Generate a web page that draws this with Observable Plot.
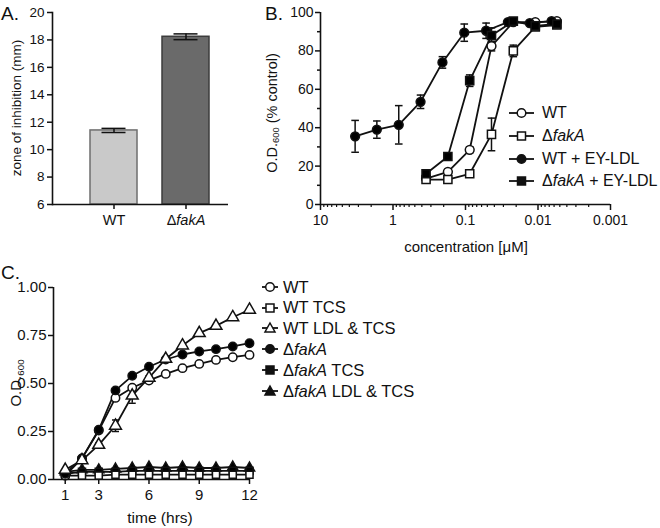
<!DOCTYPE html>
<html><head><meta charset="utf-8">
<script src="https://cdn.jsdelivr.net/npm/d3@7"></script>
<script src="https://cdn.jsdelivr.net/npm/@observablehq/plot@0.6"></script>
<style>
body{margin:0;background:#fff}
#fig{position:relative;width:660px;height:528px;font-family:Arial,"Liberation Sans",sans-serif;color:#111;overflow:hidden;background:#fff}
.abs{position:absolute}
.plabel{position:absolute;font-size:19px;line-height:1}
.ytitle{position:absolute;transform:translate(-50%,-50%) rotate(-90deg);white-space:nowrap;line-height:1}
.xtitle{position:absolute;transform:translate(-50%,-50%);white-space:nowrap;line-height:1}
.lrow{position:absolute;display:flex;align-items:center;white-space:nowrap;height:20px}
.lrow svg{display:block}
sub{font-size:65%;vertical-align:-0.25em}
</style></head>
<body>
<div id="fig">
  <div id="pA" class="abs" style="left:0;top:0"></div>
  <div id="pB" class="abs" style="left:250px;top:0"></div>
  <div id="pC" class="abs" style="left:0;top:255px"></div>
  <div class="plabel" style="left:1px;top:4px">A.</div>
  <div class="plabel" style="left:265px;top:4px">B.</div>
  <div class="plabel" style="left:1px;top:263px">C.</div>
  <div class="ytitle" style="left:17px;top:108px;font-size:13.5px">zone of inhibition (mm)</div>
  <div class="ytitle" style="left:273px;top:113px;font-size:14.5px">O.D.<sub>600</sub> (% control)</div>
  <div class="xtitle" style="left:466px;top:246px;font-size:15px">concentration [μM]</div>
  <div class="ytitle" style="left:17px;top:383px;font-size:15px">O.D.<sub>600</sub></div>
  <div class="xtitle" style="left:160px;top:518px;font-size:15.5px">time (hrs)</div>
  <div id="legB"></div>
  <div id="legC"></div>
</div>
<script>
// ---------- Panel A data ----------
const barCats = ["WT", "ΔfakA"];
const barMeans = [11.4, 18.23];
const barErr = [0.15, 0.21];
const aTicks = [6, 8, 10, 12, 14, 16, 18, 20];

// ---------- Panel B data ----------
const bXTicks = [10, 1, 0.1, 0.01, 0.001];
const bYTicks = [0, 20, 40, 60, 80, 100];
const bYMinor = [10, 30, 50, 70, 90];
const bConcLDL = [3.33, 1.67, 0.833, 0.417, 0.208, 0.104, 0.052, 0.026, 0.013, 0.0065];
const bConc = [0.35, 0.175, 0.0875, 0.0438, 0.0219, 0.0109, 0.0055];
const bWT = [13.5, 17, 28.5, 82.5, 95, 95, 95.5];
const bWTerr = [1, 1, 1.5, 2.5, 1, 1, 1];
const bFak = [13, 13, 16, 36.5, 80, 92.5, 93.5];
const bFakErr = [1, 1, 1.5, 8.5, 3, 1, 1];
const bWTLDL = [35.5, 39, 41.5, 53.5, 74, 89.5, 90.5, 95, 94.5, 95.5];
const bWTLDLerr = [8.3, 4.5, 10, 3.5, 3, 4.5, 4, 1, 1, 1];
const bFakLDL = [16, 25, 64.5, 88, 95.5, 93, 94];
const bFakLDLerr = [1, 1, 3, 4, 1, 1, 1];
const bNames = ["WT", "ΔfakA", "WT + EY-LDL", "ΔfakA + EY-LDL"];

// ---------- Panel C data ----------
const cTime = [1, 2, 3, 4, 5, 6, 7, 8, 9, 10, 11, 12];
const cXTicks = [1, 3, 6, 9, 12];
const cYTicks = [0, 0.25, 0.5, 0.75, 1];
const cWT = [0.02, 0.11, 0.255, 0.425, 0.478, 0.516, 0.55, 0.58, 0.602, 0.623, 0.637, 0.649];
const cWTTCS = [0.02, 0.02, 0.02, 0.025, 0.025, 0.025, 0.025, 0.025, 0.025, 0.025, 0.025, 0.025];
const cWTLDLTCS = [0.05, 0.10, 0.18, 0.28, 0.437, 0.53, 0.628, 0.698, 0.762, 0.80, 0.845, 0.884];
const cWTLDLTCSerr = [0, 0, 0.01, 0.03, 0.04, 0.01, 0, 0, 0, 0, 0, 0];
const cFak = [0.03, 0.11, 0.259, 0.464, 0.54, 0.587, 0.625, 0.651, 0.667, 0.679, 0.693, 0.71];
const cFakTCS = [0.03, 0.04, 0.04, 0.04, 0.045, 0.045, 0.045, 0.045, 0.045, 0.045, 0.045, 0.045];
const cFakLDLTCS = [0.04, 0.05, 0.05, 0.055, 0.06, 0.065, 0.06, 0.065, 0.06, 0.06, 0.065, 0.06];
const cNames = ["WT", "WT TCS", "WT LDL & TCS", "ΔfakA", "ΔfakA TCS", "ΔfakA LDL & TCS"];

// ---------- helpers ----------
const capSym = {draw(ctx, size) { const r = Math.sqrt(size / Math.PI); ctx.moveTo(-r, 0); ctx.lineTo(r, 0); }};
const FONT = 'Arial, "Liberation Sans", sans-serif';

function italicize(svg) {
  d3.select(svg).selectAll("text").each(function () {
    const t = this.textContent;
    if (t.startsWith("Δ")) {
      const sel = d3.select(this);
      sel.text("");
      sel.append("tspan").text("Δ");
      sel.append("tspan").attr("font-style", "italic").text(t.slice(1));
    }
  });
}

// ---------- Panel A ----------
{
  const rows = barCats.map((c, i) => ({cat: c, mean: barMeans[i], err: barErr[i]}));
  const fills = ["#c9c9c9", "#6a6a6a"], strokes = ["#6e6e6e", "#3c3c3c"];
  const barMarks = rows.map((r, i) => Plot.barY([r], {x: "cat", y1: 6, y2: "mean", fill: fills[i], stroke: strokes[i], strokeWidth: 1.5}));
  const svg = Plot.plot({
    width: 240, height: 255, marginLeft: 52, marginRight: 12, marginTop: 12, marginBottom: 51,
    style: {fontFamily: FONT, fontSize: "13.5px", color: "#111", background: "transparent", overflow: "visible"},
    x: {type: "band", domain: barCats, range: [77.25, 222.25], paddingInner: 0.35, paddingOuter: 0.175, label: null},
    y: {domain: [6, 20], label: null},
    marks: [
      ...barMarks,
      Plot.ruleX(rows, {x: "cat", y1: d => d.mean - d.err, y2: d => d.mean + d.err, stroke: "#111", strokeWidth: 1.5}),
      Plot.tickY(rows, {x: "cat", y: d => d.mean + d.err, insetLeft: 11.5, insetRight: 11.5, stroke: "#111", strokeWidth: 1.5}),
      Plot.tickY(rows, {x: "cat", y: d => d.mean - d.err, insetLeft: 11.5, insetRight: 11.5, stroke: "#111", strokeWidth: 1.5}),
      Plot.axisY({ticks: aTicks, tickSize: 5, tickPadding: 3, strokeWidth: 1.5, label: null}),
      Plot.axisX({tickSize: 5, tickPadding: 5, strokeWidth: 1.5, label: null, fontSize: 14.5}),
      Plot.ruleY([6], {stroke: "#111", strokeWidth: 1.6}),
      Plot.frame({anchor: "left", stroke: "#111", strokeWidth: 1.6})
    ]
  });
  italicize(svg);
  document.getElementById("pA").appendChild(svg);
}

// ---------- Panel B ----------
{
  const series = [
    {name: bNames[0], x: bConc, y: bWT, e: bWTerr, sym: "circle", fill: "white"},
    {name: bNames[1], x: bConc, y: bFak, e: bFakErr, sym: "square", fill: "white"},
    {name: bNames[2], x: bConcLDL, y: bWTLDL, e: bWTLDLerr, sym: "circle", fill: "black"},
    {name: bNames[3], x: bConc, y: bFakLDL, e: bFakLDLerr, sym: "square", fill: "black"}
  ];
  const rows = series.flatMap(s => s.x.map((x, i) => ({s: s.name, x, y: s.y[i], e: s.e[i]})));
  const minor = [0.001, 0.01, 0.1, 1].flatMap(d => [2, 3, 4, 5, 6, 7, 8, 9].map(k => +(d * k).toPrecision(3)));
  const marks = [
    Plot.line(rows, {x: "x", y: "y", z: "s", stroke: "#111", strokeWidth: 1.8}),
    Plot.ruleX(rows, {x: "x", y1: d => d.y - d.e, y2: d => d.y + d.e, stroke: "#111", strokeWidth: 1.5}),
    Plot.dot(rows, {x: "x", y: d => d.y + d.e, symbol: capSym, r: 3.8, stroke: "#111", strokeWidth: 1.5, fill: "none"}),
    Plot.dot(rows, {x: "x", y: d => d.y - d.e, symbol: capSym, r: 3.8, stroke: "#111", strokeWidth: 1.5, fill: "none"})
  ];
  for (const s of series) {
    marks.push(Plot.dot(rows.filter(r => r.s === s.name), {x: "x", y: "y", symbol: s.sym, r: s.sym === "square" ? 4.6 : 4.4, fill: s.fill, stroke: "#111", strokeWidth: 1.5}));
  }
  marks.push(
    Plot.axisY({ticks: bYTicks, tickSize: 5, tickPadding: 2, strokeWidth: 1.5, label: null}),
    Plot.axisY({ticks: bYMinor, tickSize: 3, tickFormat: () => "", strokeWidth: 1.5, label: null}),
    Plot.axisX({ticks: bXTicks, tickFormat: d => String(d), tickSize: 6, tickPadding: 5, strokeWidth: 1.5, label: null}),
    Plot.axisX({ticks: minor, tickFormat: () => "", tickSize: 3, strokeWidth: 1.2, label: null}),
    Plot.ruleY([0], {stroke: "#111", strokeWidth: 1.6}),
    Plot.ruleX([10], {stroke: "#111", strokeWidth: 1.6})
  );
  const svg = Plot.plot({
    width: 410, height: 255, marginLeft: 70, marginRight: 50, marginTop: 12, marginBottom: 51,
    style: {fontFamily: FONT, fontSize: "14px", color: "#111", background: "transparent", overflow: "visible"},
    x: {type: "log", domain: [10, 0.001], label: null},
    y: {domain: [0, 100], label: null},
    marks
  });
  document.getElementById("pB").appendChild(svg);
}

// ---------- Panel C ----------
{
  const series = [
    {name: cNames[5], y: cFakLDLTCS, sym: "triangle", fill: "black"},
    {name: cNames[4], y: cFakTCS, sym: "square", fill: "black"},
    {name: cNames[1], y: cWTTCS, sym: "square", fill: "white"},
    {name: cNames[0], y: cWT, sym: "circle", fill: "white"},
    {name: cNames[3], y: cFak, sym: "circle", fill: "black"},
    {name: cNames[2], y: cWTLDLTCS, e: cWTLDLTCSerr, sym: "triangle", fill: "white"}
  ];
  const rows = series.flatMap(s => cTime.map((t, i) => ({s: s.name, x: t, y: s.y[i], e: s.e ? s.e[i] : 0})));
  const errRows = rows.filter(r => r.e > 0);
  const marks = [
    Plot.line(rows, {x: "x", y: "y", z: "s", stroke: "#111", strokeWidth: 1.8}),
    Plot.ruleX(errRows, {x: "x", y1: d => d.y - d.e, y2: d => d.y + d.e, stroke: "#111", strokeWidth: 1.5}),
    Plot.dot(errRows, {x: "x", y: d => d.y + d.e, symbol: capSym, r: 3.5, stroke: "#111", strokeWidth: 1.5, fill: "none"}),
    Plot.dot(errRows, {x: "x", y: d => d.y - d.e, symbol: capSym, r: 3.5, stroke: "#111", strokeWidth: 1.5, fill: "none"})
  ];
  for (const s of series) {
    const r = s.sym === "triangle" ? (s.fill === "black" ? 3.8 : 4.4) : s.sym === "square" ? 4.0 : 4.2;
    marks.push(Plot.dot(rows.filter(d => d.s === s.name), {x: "x", y: "y", symbol: s.sym, r, fill: s.fill, stroke: "#111", strokeWidth: 1.5}));
  }
  marks.push(
    Plot.axisY({ticks: cYTicks, tickFormat: d3.format(".2f"), tickSize: 5, tickPadding: 2, strokeWidth: 1.5, label: null}),
    Plot.axisX({ticks: cXTicks, tickSize: 5, tickPadding: 5, strokeWidth: 1.5, label: null}),
    Plot.ruleY([0], {stroke: "#111", strokeWidth: 1.6}),
    Plot.ruleX([0.3], {stroke: "#111", strokeWidth: 1.6})
  );
  const svg = Plot.plot({
    width: 260, height: 273, marginLeft: 53, marginRight: 11, marginTop: 32, marginBottom: 49,
    style: {fontFamily: FONT, fontSize: "15px", color: "#111", background: "transparent", overflow: "visible"},
    x: {domain: [0.3, 12], label: null},
    y: {domain: [0, 1], label: null},
    marks
  });
  document.getElementById("pC").appendChild(svg);
}

// ---------- Legends ----------
function legendSvg(w, sym, filled) {
  const c = w / 2, cy = 7, f = filled ? "#111" : "#fff";
  let m;
  if (sym === "circle") m = `<circle cx="${c}" cy="${cy}" r="4.3" fill="${f}" stroke="#111" stroke-width="1.5"/>`;
  else if (sym === "square") m = `<rect x="${c - 4}" y="${cy - 4}" width="8" height="8" fill="${f}" stroke="#111" stroke-width="1.5"/>`;
  else m = `<path d="M${c},${cy - 5}L${c + 5},${cy + 4}L${c - 5},${cy + 4}Z" fill="${f}" stroke="#111" stroke-width="1.5"/>`;
  return `<svg width="${w}" height="14"><line x1="0" x2="${w}" y1="${cy}" y2="${cy}" stroke="#111" stroke-width="1.8"/>${m}</svg>`;
}
function labelHtml(t) { return t.startsWith("Δ") ? t.replace(/^Δ(\S+)/, "Δ<i>$1</i>") : t; }
function buildLegend(id, names, syms, fills, left, tops, w, gap, fs) {
  const el = document.getElementById(id);
  names.forEach((n, i) => {
    const row = document.createElement("div");
    row.className = "lrow";
    row.style.left = left + "px";
    row.style.top = (tops[i] - 10) + "px";
    row.style.fontSize = fs + "px";
    row.innerHTML = legendSvg(w, syms[i], fills[i]) + `<span style="margin-left:${gap}px">${labelHtml(n)}</span>`;
    el.appendChild(row);
  });
}
buildLegend("legB", bNames, ["circle", "square", "circle", "square"], [false, false, true, true], 509, [113, 135.5, 158.5, 181], 25, 8, 16);
buildLegend("legC", cNames, ["circle", "square", "triangle", "circle", "square", "triangle"], [false, false, false, true, true, true], 262, [287, 307.5, 328, 349, 370, 391], 16, 5, 16.5);
</script>
</body></html>
